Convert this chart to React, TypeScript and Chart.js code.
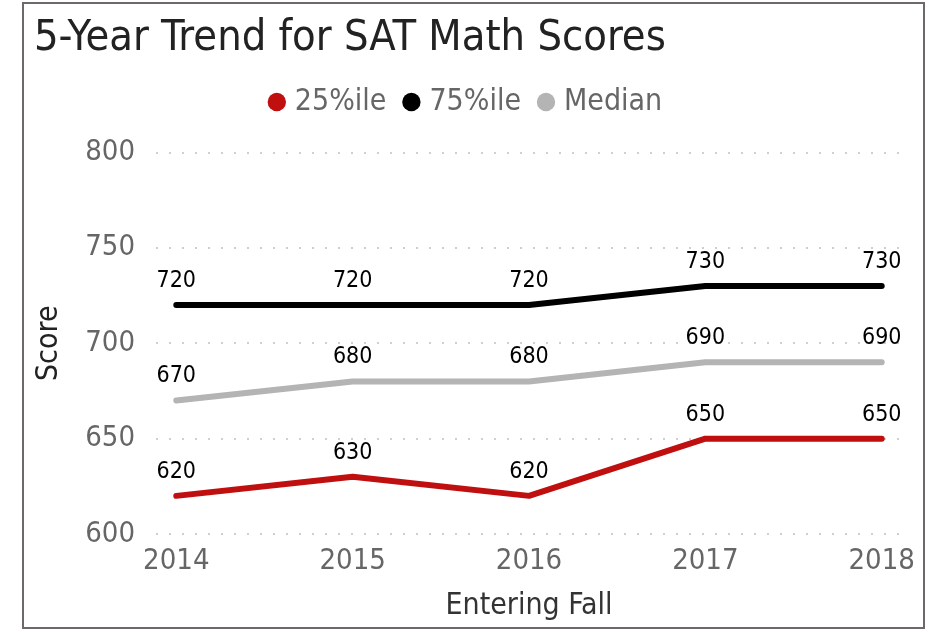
import React, { useEffect, useRef } from "react";
import { Chart, registerables } from "chart.js";

Chart.register(...registerables);

const years = [2014, 2015, 2016, 2017, 2018];
const p25 = [620, 630, 620, 650, 650];
const p75 = [720, 720, 720, 730, 730];
const median = [670, 680, 680, 690, 690];
const seriesNames = ["25%ile", "75%ile", "Median"];
const seriesColors = ["#C00F0F", "#000000", "#B4B4B4"];
const yTicks = [600, 650, 700, 750, 800];

const FONT = "'DejaVu Sans Condensed', 'DejaVu Sans', sans-serif";

const legendGap = {
  id: "legendGap",
  beforeLayout(chart: any) {
    const lg = chart.legend;
    if (lg && !lg._gapPatched) {
      const orig = lg.fit;
      lg.fit = function () {
        orig.call(this);
        this.height += 25.5;
      };
      lg._gapPatched = true;
    }
  },
};

const dataLabels = {
  id: "dataLabels",
  afterDatasetsDraw(chart: any) {
    const ctx = chart.ctx;
    ctx.save();
    ctx.font = `23px ${FONT}`;
    ctx.fillStyle = "#000";
    ctx.textAlign = "center";
    ctx.textBaseline = "middle";
    chart.data.datasets.forEach((ds: any, i: number) => {
      const meta = chart.getDatasetMeta(i);
      meta.data.forEach((pt: any, j: number) => {
        ctx.fillText(String(ds.data[j].y), pt.x, pt.y - 24);
      });
    });
    ctx.restore();
  },
};

export default function App() {
  const ref = useRef<HTMLCanvasElement>(null);
  useEffect(() => {
    const seriesValues = [p25, p75, median];
    const chart = new Chart(ref.current!, {
      type: "line",
      data: {
        datasets: seriesValues.map((vals, i) => ({
          label: seriesNames[i],
          data: years.map((y, j) => ({ x: y, y: vals[j] })),
          borderColor: seriesColors[i],
          backgroundColor: seriesColors[i],
          borderWidth: 6,
          borderCapStyle: "round",
          borderJoinStyle: "round",
          pointRadius: 0,
          pointStyle: "circle",
          tension: 0,
        })),
      },
      options: {
        responsive: false,
        animation: false,
        layout: { padding: { left: 34, right: 26, top: 6, bottom: 8 } },
        plugins: {
          title: {
            display: true,
            text: "5-Year Trend for SAT Math Scores",
            align: "start",
            color: "#222222",
            font: { family: FONT, size: 43, weight: "normal", lineHeight: 1.2 },
            padding: { top: 7, bottom: 0.4 },
          },
          legend: {
            display: true,
            position: "top",
            labels: {
              usePointStyle: true,
              boxWidth: 6,
              boxHeight: 13,
              padding: 22,
              color: "#666666",
              font: { family: FONT, size: 30 },
              generateLabels: (c: any) =>
                (Chart.defaults.plugins.legend.labels as any)
                  .generateLabels(c)
                  .map((l: any) => ({ ...l, lineWidth: 0 })),
            },
          },
          tooltip: { enabled: false },
        },
        scales: {
          x: {
            type: "linear",
            min: years[0] - 0.115,
            max: years[years.length - 1] + 0.115,
            grid: { display: false, drawTicks: false },
            border: { display: false },
            ticks: {
              stepSize: 1,
              includeBounds: false,
              maxRotation: 0,
              color: "#666666",
              padding: 5,
              font: { family: FONT, size: 29, lineHeight: 1.572 },
              callback: (v: any) => String(v),
            },
            title: {
              display: true,
              text: "Entering Fall",
              color: "#333333",
              font: { family: FONT, size: 30, lineHeight: 1.08 },
              padding: { top: 0, bottom: 0 },
            },
          },
          y: {
            min: yTicks[0],
            max: yTicks[yTicks.length - 1],
            afterBuildTicks: (s: any) => {
              s.ticks = yTicks.map((v) => ({ value: v }));
            },
            afterFit: (s: any) => {
              s.width = 122;
            },
            grid: { color: "#CFCFCF", lineWidth: 2, drawTicks: false },
            border: { display: false, dash: [2, 11] },
            ticks: {
              color: "#666666",
              padding: 21,
              font: { family: FONT, size: 29 },
            },
            title: {
              display: true,
              text: "Score",
              color: "#222222",
              font: { family: FONT, size: 30, lineHeight: 1.0 },
              padding: { top: 0, bottom: 0 },
            },
          },
        },
      },
      plugins: [legendGap, dataLabels],
    } as any);
    return () => chart.destroy();
  }, []);

  return (
    <div style={{ position: "absolute", left: 0, top: 0, width: 928, height: 630, background: "#fff" }}>
      <canvas ref={ref} width={928} height={630} style={{ width: 928, height: 630, display: "block" }} />
      <div
        style={{
          position: "absolute",
          left: 22,
          top: 2,
          width: 903,
          height: 627,
          border: "2px solid #6E6868",
          boxSizing: "border-box",
          pointerEvents: "none",
        }}
      />
    </div>
  );
}
